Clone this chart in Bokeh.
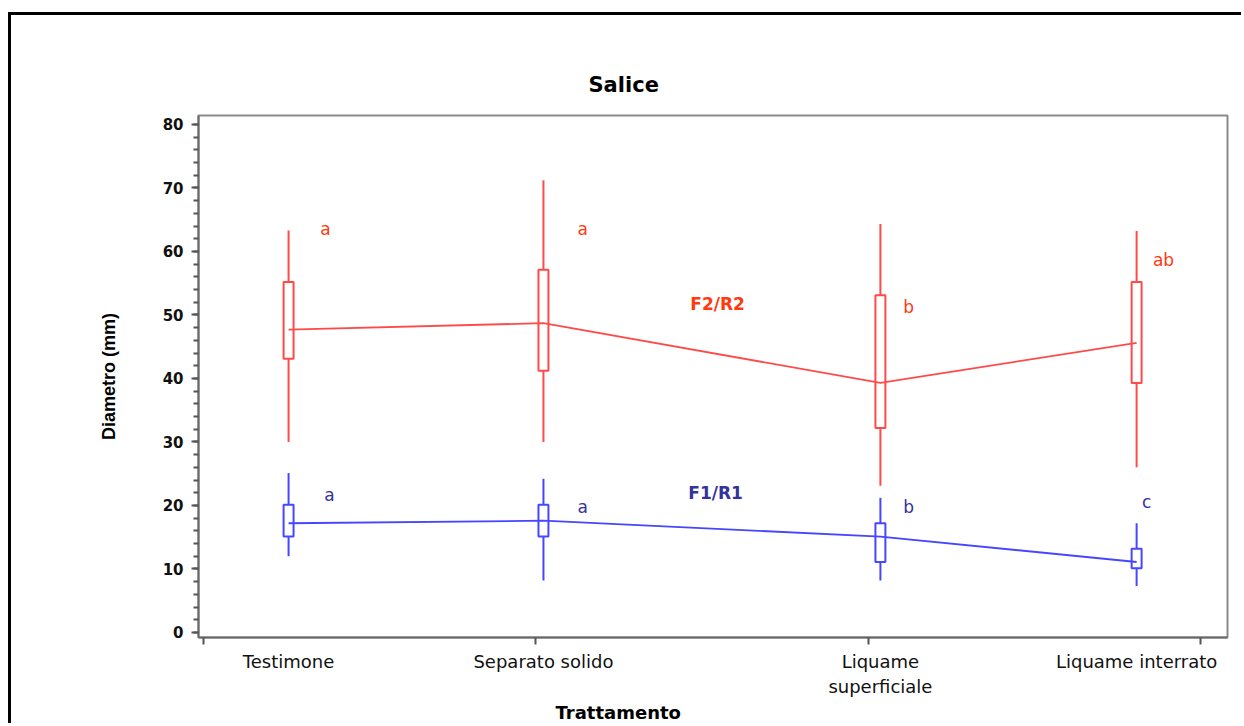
from bokeh.plotting import figure
from bokeh.models import (Range1d, Label, FixedTicker, LinearAxis, Title,
                          SingleIntervalTicker, ColumnDataSource)
from bokeh.core.properties import value
from bokeh.embed import file_html
from bokeh.resources import INLINE

# ---------------- data ----------------
categories = ["Testimone", "Separato solido", "Liquame\nsuperficiale", "Liquame interrato"]
cat_x = [0.256, 1.023, 2.037, 2.808]          # position of each treatment on the x axis
axis_ticks = [0, 1, 2, 3]

# F2/R2 (red)
f2_hi = [63.3, 71.2, 64.3, 63.2]
f2_q3 = [55.2, 57.1, 53.1, 55.2]
f2_mean = [47.7, 48.7, 39.3, 45.6]
f2_q1 = [43.1, 41.2, 32.2, 39.3]
f2_lo = [30.0, 30.0, 23.1, 26.0]
f2_letters = ["a", "a", "b", "ab"]

# F1/R1 (blue)
f1_hi = [25.1, 24.2, 21.2, 17.2]
f1_q3 = [20.1, 20.1, 17.2, 13.2]
f1_mean = [17.2, 17.6, 15.1, 11.1]
f1_q1 = [15.1, 15.1, 11.1, 10.1]
f1_lo = [12.0, 8.2, 8.2, 7.3]
f1_letters = ["a", "a", "b", "c"]

# ---------------- figure ----------------
p = figure(width=1233, height=711, output_backend="svg", toolbar_location=None,
           x_range=Range1d(-0.01505, 3.0815), y_range=Range1d(-0.79, 81.4),
           min_border_left=187, min_border_right=17, min_border_top=100,
           min_border_bottom=89)
p.margin = (12, 0, 0, 8)
p.styles = {"border-top": "3px solid black", "border-left": "3px solid black"}

p.title.text = "Salice"
p.title.align = "left"
p.title.offset = 390
p.title.standoff = 38
p.title.text_font = "DejaVu Sans"
p.title.text_font_style = "bold"
p.title.text_font_size = "21px"
p.title.text_color = "black"

p.xgrid.visible = False
p.ygrid.visible = False
p.background_fill_color = "white"
p.border_fill_color = "white"
p.outline_line_color = "#8a8a8a"
p.outline_line_width = 2

RED = "#ff4a4a"
RED_TXT = "#ff3a10"
BLUE = "#4646ff"
BLUE_TXT = "#33339a"

def draw_series(lo, q1, mean, q3, hi, color):
    src = ColumnDataSource(dict(x=cat_x, lo=lo, q1=q1, mean=mean, q3=q3, hi=hi))
    p.segment(x0="x", y0="lo", x1="x", y1="hi", source=src, line_color=color, line_width=2)
    p.vbar(x="x", width=0.03, bottom="q1", top="q3", source=src,
           fill_color="white", line_color=color, line_width=2)
    p.line(x="x", y="mean", source=src, line_color=color, line_width=1.8)

draw_series(f2_lo, f2_q1, f2_mean, f2_q3, f2_hi, RED)
draw_series(f1_lo, f1_q1, f1_mean, f1_q3, f1_hi, BLUE)

# significance letters
red_lx = [0.367, 1.141, 2.122, 2.889]
red_ly = [63.6, 63.6, 51.3, 58.7]
blue_lx = [0.379, 1.141, 2.122, 2.838]
blue_ly = [21.6, 19.8, 19.8, 20.6]
p.text(x=red_lx, y=red_ly, text=f2_letters, text_color=RED_TXT,
       text_font=value("DejaVu Sans"), text_font_size="17px",
       text_align="center", text_baseline="middle")
p.text(x=blue_lx, y=blue_ly, text=f1_letters, text_color=BLUE_TXT,
       text_font=value("DejaVu Sans"), text_font_size="17px",
       text_align="center", text_baseline="middle")

p.add_layout(Label(x=1.547, y=51.7, text="F2/R2", text_color=RED_TXT,
                   text_font="DejaVu Sans", text_font_style="bold",
                   text_font_size="17px", text_align="center", text_baseline="middle"))
p.add_layout(Label(x=1.541, y=21.9, text="F1/R1", text_color=BLUE_TXT,
                   text_font="DejaVu Sans", text_font_style="bold",
                   text_font_size="17px", text_align="center", text_baseline="middle"))

# ---------------- axes ----------------
ya = p.yaxis[0]
ya.ticker = SingleIntervalTicker(interval=10, num_minor_ticks=5)
ya.axis_line_color = "#6a6a6a"
ya.axis_line_width = 2
ya.major_tick_line_color = "#555555"
ya.major_tick_line_width = 2
ya.minor_tick_line_color = "#555555"
ya.minor_tick_line_width = 2
ya.major_tick_out = 7
ya.major_tick_in = 0
ya.minor_tick_out = 5
ya.minor_tick_in = 0
ya.major_label_standoff = 8
ya.major_label_text_font = "DejaVu Sans"
ya.major_label_text_font_style = "bold"
ya.major_label_text_font_size = "15px"
ya.major_label_text_color = "#111111"
ya.axis_label = "Diametro (mm)"
ya.axis_label_text_font = "Liberation Sans"
ya.axis_label_text_font_style = "bold"
ya.axis_label_text_font_size = "18px"
ya.axis_label_text_color = "black"
ya.axis_label_standoff = 41

xa = p.xaxis[0]
xa.ticker = FixedTicker(ticks=axis_ticks, minor_ticks=[])
xa.axis_line_color = "#6a6a6a"
xa.axis_line_width = 2
xa.major_tick_line_color = "#555555"
xa.major_tick_line_width = 2
xa.major_tick_out = 7
xa.major_tick_in = 0
xa.minor_tick_out = 0
xa.major_label_standoff = 0
xa.major_label_text_font_size = "0px"
xa.major_label_text_alpha = 0

# category labels on a second, tickless axis below the first one
xcat = LinearAxis(ticker=FixedTicker(ticks=cat_x, minor_ticks=[]),
                  major_label_overrides={x: n for x, n in zip(cat_x, categories)})
xcat.axis_line_alpha = 0
xcat.major_tick_out = 0
xcat.major_tick_in = 0
xcat.minor_tick_out = 0
xcat.minor_tick_in = 0
xcat.major_label_standoff = 6
xcat.major_label_text_font = "DejaVu Sans"
xcat.major_label_text_font_size = "18px"
xcat.major_label_text_color = "#111111"
p.add_layout(xcat, "below")

xt = Title(text="Trattamento", align="left", offset=357, standoff=0,
           text_font="DejaVu Sans", text_font_style="bold",
           text_font_size="18px", text_color="black")
p.add_layout(xt, "below")

open("out.html", "w").write(file_html(p, INLINE))
